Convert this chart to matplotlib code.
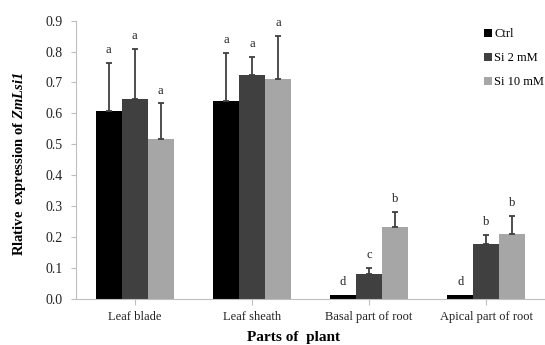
import numpy as np
import matplotlib.pyplot as plt

plt.rcParams['font.family'] = ['Liberation Serif', 'DejaVu Serif']
plt.rcParams['mathtext.fontset'] = 'custom'
plt.rcParams['mathtext.rm'] = 'Liberation Serif'
plt.rcParams['mathtext.bf'] = 'Liberation Serif:bold'
plt.rcParams['mathtext.it'] = 'Liberation Serif:italic'
plt.rcParams['mathtext.bfit'] = 'Liberation Serif:italic:bold'

parts = ['Leaf blade', 'Leaf sheath', 'Basal part of root', 'Apical part of root']
series = ['Ctrl', 'Si 2 mM', 'Si 10 mM']
ctrl = [0.608, 0.641, 0.011, 0.011]
si2 = [0.645, 0.724, 0.079, 0.176]
si10 = [0.518, 0.711, 0.233, 0.208]
ctrl_err = [0.154, 0.153, 0.0, 0.0]
si2_err = [0.165, 0.059, 0.021, 0.030]
si10_err = [0.114, 0.139, 0.049, 0.060]
ctrl_lbl = ['a', 'a', 'd', 'd']
si2_lbl = ['a', 'a', 'c', 'b']
si10_lbl = ['a', 'a', 'b', 'b']

colors = ['#000000', '#404040', '#a6a6a6']

fig = plt.figure(figsize=(5.45, 3.45), dpi=100)
ax = fig.add_axes([0.1394, 0.1342, 0.8606, 0.8058])

x = np.arange(len(parts))
w = 0.222
values = [ctrl, si2, si10]
errors = [ctrl_err, si2_err, si10_err]
labels = [ctrl_lbl, si2_lbl, si10_lbl]
for i in range(3):
    pos = x + (i - 1) * w
    ax.bar(pos, values[i], w, color=colors[i], label=series[i], zorder=2)
    err = np.array(errors[i])
    mask = err > 0
    ax.errorbar(pos[mask], np.array(values[i])[mask],
                yerr=[np.zeros(mask.sum()), err[mask]],
                fmt='none', ecolor='#404040', elinewidth=1.3,
                capsize=2.5, capthick=1.3, zorder=3)
    for p, v, e, t in zip(pos, values[i], err, labels[i]):
        ax.annotate(t, (p, v + e), xytext=(0, 5), textcoords='offset points',
                    ha='center', va='bottom', fontsize=9, color='#222222')

ax.set_xlim(-0.5, 3.5)
ax.set_ylim(0, 0.9)
ax.set_yticks(np.arange(0, 0.91, 0.1))
ax.set_yticklabels([f'{v:.1f}' for v in np.arange(0, 0.91, 0.1)], fontsize=10)
ax.set_xticks(x)
ax.set_xticklabels(parts, fontsize=9)
ax.tick_params(axis='y', length=3.5, color='#bfbfbf', pad=6, labelcolor='#222222')
ax.tick_params(axis='x', length=4, color='#bfbfbf', pad=5, labelcolor='#222222')
for s in ['top', 'right']:
    ax.spines[s].set_visible(False)
for s in ['left', 'bottom']:
    ax.spines[s].set_color('#bfbfbf')

fig.text(0.538, 0.023, 'Parts of  plant', ha='center', va='center',
         fontsize=11, fontweight='bold')
fig.text(0.035, 0.525, r'Rlative  expression of $\mathbfit{ZmLsi1}$',
         rotation=90, ha='center', va='center', fontsize=10.5, fontweight='bold')

ax.legend(loc='upper left', bbox_to_anchor=(0.855, 1.0), frameon=False,
          fontsize=9, handlelength=0.6, handleheight=0.6, handletextpad=0.2,
          labelspacing=0.95, borderaxespad=0.2)

fig.savefig('out.png', dpi=100)
